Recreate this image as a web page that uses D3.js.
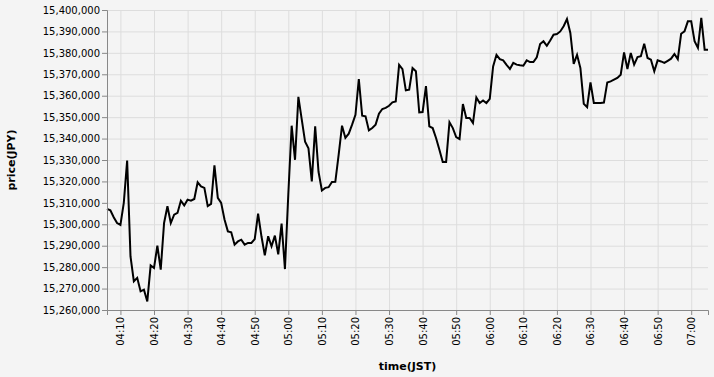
<!DOCTYPE html>
<html>
<head>
  <meta charset="utf-8">
  <title>price</title>
  <style>
    body { margin: 0; background: #f4f4f4; }
    text { font-family: "DejaVu Sans", sans-serif; }
  </style>
</head>
<body>
<script src="https://cdnjs.cloudflare.com/ajax/libs/d3/7.8.5/d3.min.js"></script>
<script>
// minute bars, JST
const times = [
  "04:06","04:07","04:08","04:09","04:10","04:11","04:12","04:13","04:14","04:15",
  "04:16","04:17","04:18","04:19","04:20","04:21","04:22","04:23","04:24","04:25",
  "04:26","04:27","04:28","04:29","04:30","04:31","04:32","04:33","04:34","04:35",
  "04:36","04:37","04:38","04:39","04:40","04:41","04:42","04:43","04:44","04:45",
  "04:46","04:47","04:48","04:49","04:50","04:51","04:52","04:53","04:54","04:55",
  "04:56","04:57","04:58","04:59","05:00","05:01","05:02","05:03","05:04","05:05",
  "05:06","05:07","05:08","05:09","05:10","05:11","05:12","05:13","05:14","05:15",
  "05:16","05:17","05:18","05:19","05:20","05:21","05:22","05:23","05:24","05:25",
  "05:26","05:27","05:28","05:29","05:30","05:31","05:32","05:33","05:34","05:35",
  "05:36","05:37","05:38","05:39","05:40","05:41","05:42","05:43","05:44","05:45",
  "05:46","05:47","05:48","05:49","05:50","05:51","05:52","05:53","05:54","05:55",
  "05:56","05:57","05:58","05:59","06:00","06:01","06:02","06:03","06:04","06:05",
  "06:06","06:07","06:08","06:09","06:10","06:11","06:12","06:13","06:14","06:15",
  "06:16","06:17","06:18","06:19","06:20","06:21","06:22","06:23","06:24","06:25",
  "06:26","06:27","06:28","06:29","06:30","06:31","06:32","06:33","06:34","06:35",
  "06:36","06:37","06:38","06:39","06:40","06:41","06:42","06:43","06:44","06:45",
  "06:46","06:47","06:48","06:49","06:50","06:51","06:52","06:53","06:54","06:55",
  "06:56","06:57","06:58","06:59","07:00","07:01","07:02","07:03","07:04","07:05"
];

const prices = [
  15307200,15306500,15303300,15300600,15299700,15310000,15329700,15285000,15273400,15275000,
  15268700,15269500,15264000,15280800,15279600,15290000,15278800,15300600,15308400,15300600,
  15304500,15305300,15311000,15308800,15311500,15311000,15311800,15319600,15317700,15317000,
  15308500,15309500,15327500,15312300,15310000,15302200,15296700,15296300,15290500,15292000,
  15292800,15290500,15291300,15291300,15293100,15305000,15294400,15285500,15294400,15289700,
  15294700,15286000,15300300,15279100,15314000,15346000,15330100,15359500,15349000,15338500,
  15335500,15320000,15345700,15324500,15315800,15317000,15317300,15319700,15319800,15332500,
  15346000,15340300,15342300,15346500,15351100,15367800,15350700,15350400,15343800,15344900,
  15346500,15351600,15353800,15354300,15355300,15356900,15357300,15374400,15372400,15362500,
  15362800,15372900,15371400,15352200,15352400,15364500,15345700,15344900,15340300,15334800,
  15329100,15329100,15347600,15344900,15340700,15339800,15356100,15349600,15349600,15347300,
  15359200,15356600,15357800,15356600,15358500,15373700,15379100,15377100,15376500,15374400,
  15372500,15375300,15374500,15374200,15374000,15376500,15375700,15375700,15377900,15384100,
  15385400,15383300,15385800,15388500,15388800,15390000,15392400,15395800,15389300,15374900,
  15379100,15372900,15356200,15354700,15366200,15356600,15356600,15356600,15356800,15366200,
  15366700,15367500,15368300,15369800,15380200,15372500,15379900,15374500,15378000,15378400,
  15384300,15377600,15376800,15371400,15376500,15376000,15375300,15376300,15377300,15379500,
  15377100,15388900,15390000,15394700,15394700,15385400,15382300,15396300,15381500,15381500
];

const priceDomain = [15260000, 15400000];

const width = 714, height = 377;
const margin = {top: 10, left: 107};
const w = 601, h = 300;

const parse = d3.timeParse("%H:%M");
const data = times.map((t, i) => ({time: parse(t), price: prices[i]}));

const svg = d3.select("body").append("svg")
  .attr("width", width)
  .attr("height", height)
  .style("display", "block");

svg.append("rect")
  .attr("width", width)
  .attr("height", height)
  .attr("fill", "#f4f4f4");

const g = svg.append("g")
  .attr("transform", `translate(${margin.left},${margin.top})`);

const x = d3.scaleTime()
  .domain(d3.extent(data, d => d.time))
  .range([0, w]);

const y = d3.scaleLinear()
  .domain(priceDomain)
  .range([h, 0]);

const xTicks = x.ticks(d3.timeMinute.every(10));
const yTicks = d3.range(priceDomain[0], priceDomain[1] + 1, 10000);

// grid
g.append("g")
  .attr("class", "grid")
  .attr("transform", `translate(0,${h})`)
  .call(d3.axisBottom(x).tickValues(xTicks).tickSize(-h).tickFormat(""))
  .call(s => s.select(".domain").remove());

g.append("g")
  .attr("class", "grid")
  .call(d3.axisLeft(y).tickValues(yTicks).tickSize(-w).tickFormat(""))
  .call(s => s.select(".domain").remove());

g.selectAll(".grid line").attr("stroke", "#ddd");

// line
g.append("path")
  .datum(data)
  .attr("fill", "none")
  .attr("stroke", "#000")
  .attr("stroke-width", 2)
  .attr("stroke-linejoin", "miter")
  .attr("d", d3.line().x(d => x(d.time)).y(d => y(d.price)));

// axes
const xAxis = g.append("g")
  .attr("transform", `translate(0,${h})`)
  .call(d3.axisBottom(x).tickValues(xTicks).tickSize(5).tickPadding(2)
    .tickFormat(d3.timeFormat("%H:%M")));

xAxis.selectAll("text")
  .attr("transform", "rotate(-90)")
  .attr("x", -7)
  .attr("y", 0)
  .attr("dy", "0.35em")
  .attr("text-anchor", "end");

const yAxis = g.append("g")
  .call(d3.axisLeft(y).tickValues(yTicks).tickSize(5).tickPadding(2)
    .tickFormat(d3.format(",")));

[xAxis, yAxis].forEach(a => {
  a.select(".domain").attr("stroke", "#888");
  a.selectAll(".tick line").attr("stroke", "#888");
  a.selectAll("text")
    .attr("fill", "#000")
    .style("font-size", "10px")
    .style("font-family", "DejaVu Sans, sans-serif");
});

// titles
svg.append("text")
  .attr("x", margin.left + w / 2)
  .attr("y", 370)
  .attr("text-anchor", "middle")
  .style("font-size", "11px")
  .style("font-weight", "bold")
  .text("time(JST)");

svg.append("text")
  .attr("transform", `translate(15,${margin.top + h / 2}) rotate(-90)`)
  .attr("text-anchor", "middle")
  .style("font-size", "11px")
  .style("font-weight", "bold")
  .text("price(JPY)");
</script>
</body>
</html>
